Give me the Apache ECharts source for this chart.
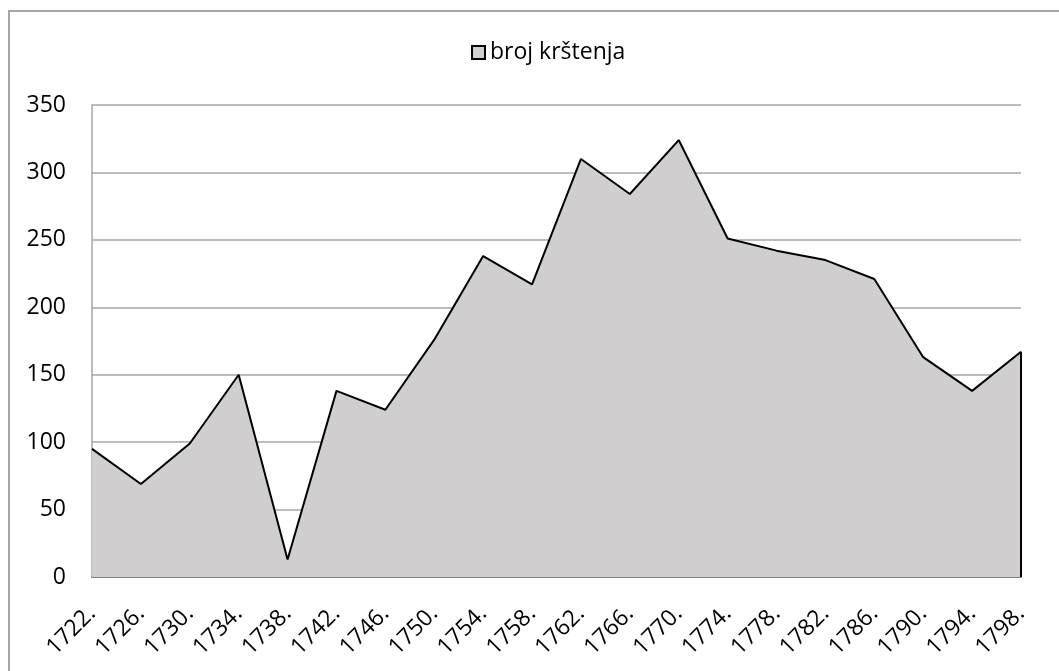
<!DOCTYPE html>
<html>
<head>
<meta charset="utf-8">
<title>broj krštenja</title>
<script src="https://cdn.jsdelivr.net/npm/echarts@6/dist/echarts.min.js"></script>
<style>
    html, body { margin: 0; padding: 0; background: #fff; }
    #chart { width: 1059px; height: 671px; }
</style>
</head>
<body>
<div id="chart"></div>
<script>
// godine (x os)
var godine = ['1722.', '1726.', '1730.', '1734.', '1738.', '1742.', '1746.', '1750.', '1754.', '1758.',
    '1762.', '1766.', '1770.', '1774.', '1778.', '1782.', '1786.', '1790.', '1794.', '1798.'];
// broj krštenja po godini
var krstenja = [95, 69, 99, 150, 13, 138, 124, 176, 238, 217,
    310, 284, 324, 251, 242, 235, 221, 163, 138, 167];
// y os
var yMin = 0, yMax = 350, yKorak = 50;

var font = '"Open Sans", "Liberation Sans", sans-serif';

var myChart = echarts.init(document.getElementById('chart'));
var option = {
    animation: false,
    // okvir oko grafikona
    graphic: [{
        type: 'rect',
        shape: { x: 9, y: 11, width: 1080, height: 700 },
        style: { fill: 'none', stroke: '#a6a6a6', lineWidth: 2 },
        silent: true
    }],
    legend: {
        left: 466,
        top: 36,
        itemWidth: 13,
        itemHeight: 13,
        icon: 'rect',
        data: [{
            name: 'broj krštenja',
            itemStyle: { color: '#d0cece', borderColor: '#000', borderWidth: 2 }
        }],
        textStyle: { fontFamily: font, fontSize: 23, color: '#000' }
    },
    grid: {
        left: 92,
        right: 38,
        top: 105,
        bottom: 94
    },
    xAxis: {
        type: 'category',
        data: godine,
        boundaryGap: false,
        axisLine: { lineStyle: { color: '#808080', width: 2 } },
        axisTick: { show: false },
        axisLabel: {
            rotate: 45,
            margin: 33,
            color: '#000',
            fontFamily: font,
            fontSize: 23,
            interval: 0
        }
    },
    yAxis: {
        type: 'value',
        min: yMin,
        max: yMax,
        interval: yKorak,
        axisLine: { show: true, lineStyle: { color: '#a6a6a6', width: 1.5 } },
        axisTick: { show: false },
        splitLine: { lineStyle: { color: '#a6a6a6', width: 1.5 } },
        axisLabel: {
            margin: 26,
            color: '#000',
            fontFamily: font,
            fontSize: 23
        }
    },
    series: [{
        name: 'broj krštenja',
        type: 'line',
        data: krstenja,
        symbol: 'none',
        lineStyle: { color: '#000', width: 2 },
        itemStyle: { color: '#d0cece', borderColor: '#000' },
        areaStyle: { color: '#d0cece', opacity: 1 },
        // desni rub površine
        markLine: {
            silent: true,
            symbol: 'none',
            label: { show: false },
            lineStyle: { color: '#000', width: 2, type: 'solid' },
            data: [[
                { coord: [godine[godine.length - 1], 0] },
                { coord: [godine[godine.length - 1], krstenja[krstenja.length - 1]] }
            ]]
        }
    }]
};
myChart.setOption(option);
</script>
</body>
</html>
